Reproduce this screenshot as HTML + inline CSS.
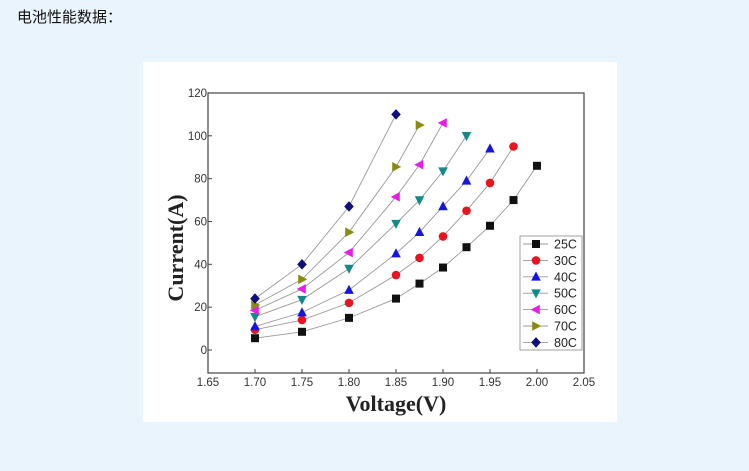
<!DOCTYPE html>
<html><head><meta charset="utf-8"><style>
body{margin:0;width:749px;height:471px;background:#eaf4fc;overflow:hidden;}
.t{position:absolute;left:17px;top:6px;font:15px "Liberation Sans","Noto Sans CJK SC",sans-serif;color:#111;}
svg{position:absolute;left:0;top:0;}
</style></head><body>
<div class="t">电池性能数据：</div>
<svg width="749" height="471" xmlns="http://www.w3.org/2000/svg" font-family="Liberation Sans, sans-serif">
<rect x="143" y="62" width="474" height="360" fill="#fff"/>
<g id="plot"></g>
</svg>
<script>
const NS="http://www.w3.org/2000/svg";
const g=document.getElementById('plot');
function el(t,a,txt){const e=document.createElementNS(NS,t);for(const k in a)e.setAttribute(k,a[k]);if(txt!==undefined)e.textContent=txt;g.appendChild(e);return e;}
const X=v=>208+(v-1.65)*940, Y=v=>350-v*2.142;
el('rect',{x:208,y:93,width:376,height:280,fill:'none',stroke:'#444','stroke-width':1.2});
for(let i=0;i<=8;i++){const v=1.65+i*0.05,x=X(v);el('line',{x1:x,y1:373,x2:x,y2:369,stroke:'#444'});
el('text',{x:x,y:386,'font-size':11.5,'text-anchor':'middle',fill:'#333'},v.toFixed(2));}
for(let v=0;v<=120;v+=20){const y=Y(v);el('line',{x1:208,y1:y,x2:212,y2:y,stroke:'#444'});
el('text',{x:207,y:y+4,'font-size':11.5,'text-anchor':'end',fill:'#333'},v);}
el('text',{x:396,y:411,'font-size':22,'font-weight':'bold','font-family':'Liberation Serif, serif','text-anchor':'middle',fill:'#222'},'Voltage(V)');
el('text',{x:0,y:0,'font-size':22,'font-weight':'bold','font-family':'Liberation Serif, serif','text-anchor':'middle',fill:'#222',transform:'translate(183,248) rotate(-90)'},'Current(A)');
const xs=[1.70,1.75,1.80,1.85,1.875,1.90,1.925,1.95,1.975,2.00];
const S=[
['25C','#111','sq',[5.5,8.5,15,24,31,38.5,48,58,70,86]],
['30C','#e8141e','ci',[9.5,14,22,35,43,53,65,78,95]],
['40C','#1515e0','tu',[11,17.5,28,45,55,67,79,94]],
['50C','#138a8a','td',[15.5,23.5,38,59,70,83.5,100]],
['60C','#e81ee8','tl',[18.5,28.5,45.5,71.5,86.5,106]],
['70C','#8a8a12','tr',[21,33,55,85.5,105]],
['80C','#10107a','di',[24,40,67,110]]];
function mk(s,c,x,y){const r=4.8;let p;
if(s=='sq')return el('rect',{x:x-4,y:y-4,width:8,height:8,fill:c});
if(s=='ci')return el('circle',{cx:x,cy:y,r:4.3,fill:c});
if(s=='tu')p=[[x,y-r-0.5],[x-r,y+r-1],[x+r,y+r-1]];
if(s=='td')p=[[x,y+r+0.5],[x-r,y-r+1],[x+r,y-r+1]];
if(s=='tl')p=[[x-r-0.5,y],[x+r-1,y-r],[x+r-1,y+r]];
if(s=='tr')p=[[x+r+0.5,y],[x-r+1,y-r],[x-r+1,y+r]];
if(s=='di')p=[[x,y-r-0.5],[x+r,y],[x,y+r+0.5],[x-r,y]];
return el('polygon',{points:p.map(q=>q.join(',')).join(' '),fill:c});}
S.forEach(([n,c,s,d])=>{const pts=d.map((v,i)=>[X(xs[i]),Y(v)]);
el('polyline',{points:pts.map(p=>p.join(',')).join(' '),fill:'none',stroke:'#999','stroke-width':0.9});
pts.forEach(p=>mk(s,c,p[0],p[1]));});
el('rect',{x:520,y:236,width:62,height:114,fill:'#fff',stroke:'#888','stroke-width':0.8});
S.forEach(([n,c,s],i)=>{const y=244+i*16.4;
el('line',{x1:523,y1:y,x2:548,y2:y,stroke:'#999','stroke-width':0.9});mk(s,c,536,y);
el('text',{x:554,y:y+4.5,'font-size':12.5,fill:'#222'},n);});
</script>
</body></html>
